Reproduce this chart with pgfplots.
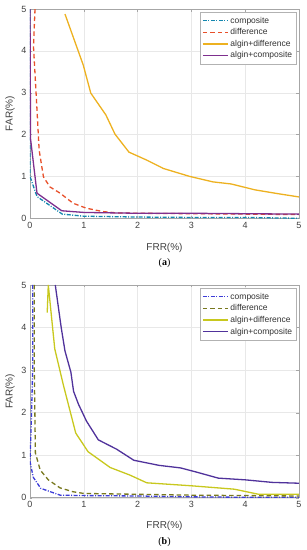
\documentclass[border=0pt]{standalone}
\usepackage{pgfplots}
\pgfplotsset{compat=1.18}
\usepackage{fontspec}
\setmainfont{Liberation Sans}
\newfontfamily\serifb{Liberation Serif}
\definecolor{cTeal}{RGB}{20,135,175}
\definecolor{cRed}{RGB}{232,80,42}
\definecolor{cOrange}{RGB}{237,177,32}
\definecolor{cPurple}{RGB}{126,47,142}
\definecolor{cBlue}{RGB}{60,60,215}
\definecolor{cOlive}{RGB}{120,120,30}
\definecolor{cYellow}{RGB}{200,200,30}
\definecolor{cIndigo}{RGB}{80,50,155}
\pgfplotsset{
  mystyle/.style={
    scale only axis, width=269pt,
    xmin=0, xmax=5, ymin=0, ymax=5,
    xtick={0,1,2,3,4,5}, ytick={0,1,2,3,4,5},
    grid=major, major grid style={gray!18, line width=0.4pt},
    axis line style={gray!70, line width=0.5pt},
    tick style={gray!70}, tick align=inside, major tick length=2.5pt,
    ticklabel style={font=\fontsize{9}{10}\selectfont, text=black!75},
    /pgf/number format/assume math mode=true,
    label style={font=\fontsize{10}{11}\selectfont, text=black!75},
    xlabel={FRR(\%)}, ylabel={FAR(\%)},
    ylabel style={at={(axis description cs:-0.074,0.5)}, anchor=center},
    legend style={font=\fontsize{8.5}{10}\selectfont, text=black!80, draw=gray!60, line width=0.4pt,
      at={(0.99,0.985)}, anchor=north east, row sep=0pt, inner xsep=2pt, inner ysep=2.5pt},
    legend cell align=left,
    legend image code/.code={\draw[##1, line width=1.3pt] (0pt,0pt) -- (25pt,0pt);},
    clip=true,
  },
  compo/.style={line width=1.3pt, dash pattern=on 4pt off 1.5pt on 1pt off 1.5pt},
  diffe/.style={line width=1.3pt, dash pattern=on 4.5pt off 3pt},
  solid1/.style={line width=1.3pt},
}
\begin{document}
\begin{tikzpicture}[x=1pt,y=1pt]
\useasboundingbox (0,0) rectangle (307,550);
\begin{axis}[mystyle, at={(30pt,331.7pt)}, anchor=south west, height=209.3pt,
  xlabel style={at={(axis description cs:0.5,-0.142)}, anchor=center}]
\addplot[cTeal, compo] coordinates {(0,5) (0,1) (0.13,0.52) (0.6,0.1) (1,0.05) (1.5,0.04) (2,0.03) (3,0.02) (4,0.02) (5,0.0)};
\addlegendentry{composite}
\addplot[cRed, diffe] coordinates {(0.093,5) (0.065,4.1) (0.12,2.83) (0.17,1.63) (0.25,0.99) (0.37,0.75) (0.56,0.6) (0.8,0.36) (1.05,0.24) (1.36,0.16) (1.6,0.13) (2,0.12) (3,0.11) (4,0.1) (5,0.09)};
\addlegendentry{difference}
\addplot[cOrange, solid1] coordinates {(0.65,4.88) (0.99,3.66) (1.13,2.99) (1.41,2.47) (1.58,2.01) (1.84,1.58) (2.17,1.39) (2.48,1.19) (2.97,1.0) (3.4,0.87) (3.74,0.82) (4.18,0.68) (4.6,0.59) (5,0.51)};
\addlegendentry{algin+difference}
\addplot[cPurple, solid1] coordinates {(0,5) (0.01,1.9) (0.13,0.6) (0.59,0.18) (1,0.14) (1.5,0.13) (2,0.12) (3,0.12) (4,0.11) (5,0.1)};
\addlegendentry{algin+composite}
\end{axis}
\node[font=\serifb\fontsize{10}{11}\selectfont] at (164.5,287) {(\textbf{a})};

\begin{axis}[mystyle, at={(30pt,52.3pt)}, anchor=south west, height=212.7pt,
  xlabel style={at={(axis description cs:0.5,-0.133)}, anchor=center}]
\addplot[cBlue, compo] coordinates {(0.05,5) (0.05,3.0) (0.02,1.6) (0.0,0.85) (0.06,0.48) (0.2,0.22) (0.56,0.06) (1,0.05) (2,0.04) (3,0.02) (4,0.01) (5,0.01)};
\addlegendentry{composite}
\addplot[cOlive, diffe] coordinates {(0.08,5) (0.08,3) (0.1,1.05) (0.19,0.65) (0.34,0.42) (0.56,0.23) (0.8,0.14) (1,0.1) (2,0.08) (3,0.06) (4,0.05) (5,0.04)};
\addlegendentry{difference}
\addplot[cYellow, solid1] coordinates {(0.32,4.35) (0.34,5) (0.46,3.5) (0.62,2.65) (0.85,1.52) (1.08,1.08) (1.49,0.71) (1.86,0.53) (2.17,0.35) (3,0.28) (3.5,0.23) (3.8,0.2) (4.25,0.08) (5,0.08)};
\addlegendentry{algin+difference}
\addplot[cIndigo, solid1] coordinates {(0.47,5) (0.58,4.0) (0.65,3.45) (0.76,2.95) (0.81,2.5) (0.9,2.2) (1.05,1.8) (1.27,1.36) (1.61,1.14) (1.93,0.88) (2.4,0.76) (2.8,0.7) (3.1,0.6) (3.5,0.46) (4,0.42) (4.5,0.36) (5,0.34)};
\addlegendentry{algin+composite}
\end{axis}
\node[font=\serifb\fontsize{10}{11}\selectfont] at (164.5,8) {(\textbf{b})};
\end{tikzpicture}
\end{document}
